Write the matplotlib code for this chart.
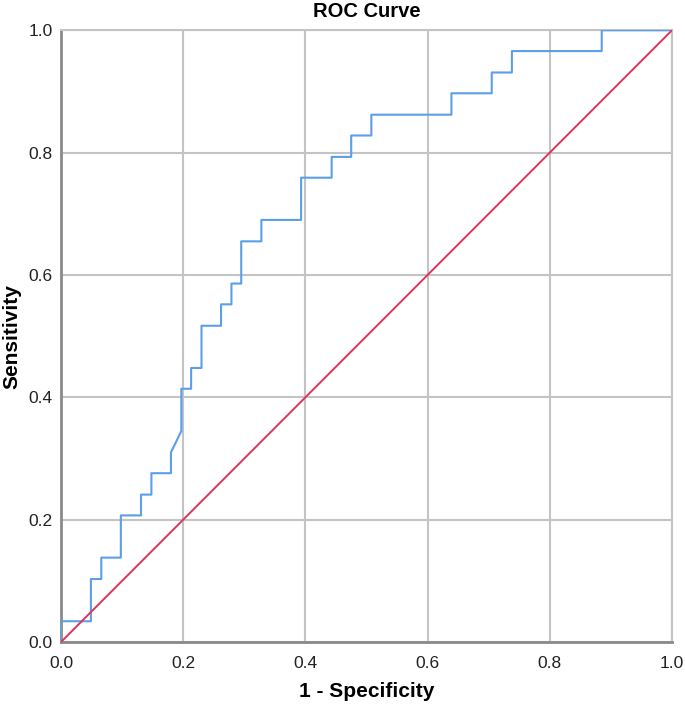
import matplotlib
matplotlib.use("Agg")
import matplotlib.pyplot as plt
import numpy as np

plt.rcParams['font.family'] = ['Liberation Sans', 'DejaVu Sans']

# ROC curve vertices
fpr = [0.000, 0.000, 0.049, 0.049, 0.066, 0.066, 0.098, 0.098, 0.131, 0.131,
       0.148, 0.148, 0.180, 0.180, 0.197, 0.197, 0.213, 0.213, 0.230, 0.230,
       0.262, 0.262, 0.279, 0.279, 0.295, 0.295, 0.328, 0.328, 0.393, 0.393,
       0.443, 0.443, 0.475, 0.475, 0.508, 0.508, 0.639, 0.639, 0.705, 0.705,
       0.738, 0.738, 0.885, 0.885, 1.000]
tpr = [0.000, 0.034, 0.034, 0.103, 0.103, 0.138, 0.138, 0.207, 0.207, 0.241,
       0.241, 0.276, 0.276, 0.310, 0.345, 0.414, 0.414, 0.448, 0.448, 0.517,
       0.517, 0.552, 0.552, 0.586, 0.586, 0.655, 0.655, 0.690, 0.690, 0.759,
       0.759, 0.793, 0.793, 0.828, 0.828, 0.862, 0.862, 0.897, 0.897, 0.931,
       0.931, 0.966, 0.966, 1.000, 1.000]
ref_line = [0.0, 1.0]
ticks = [0.0, 0.2, 0.4, 0.6, 0.8, 1.0]
tick_labels = ['0.0', '0.2', '0.4', '0.6', '0.8', '1.0']

fig = plt.figure(figsize=(6.85, 7.04), dpi=100)
ax = fig.add_axes([0.089, 0.088, 0.892, 0.869])

ax.plot(fpr, tpr, color='#5b9ee9', linewidth=1.5, zorder=3)
ax.plot(ref_line, ref_line, color='#e0335a', linewidth=1.4, zorder=3)

ax.set_xlim(0, 1)
ax.set_ylim(0, 1)
ax.set_xticks(ticks)
ax.set_yticks(ticks)
ax.set_xticklabels(tick_labels)
ax.set_yticklabels(tick_labels)
ax.tick_params(length=0, labelsize=12.5, colors='#222222')
ax.tick_params(axis='x', pad=10)
ax.tick_params(axis='y', pad=6)
ax.grid(True, color='#c4c4c4', linewidth=1.5)
ax.set_axisbelow(True)

for side in ['top', 'right']:
    ax.spines[side].set_color('#c4c4c4')
    ax.spines[side].set_linewidth(1.5)
for side in ['left', 'bottom']:
    ax.spines[side].set_color('#8a8a8a')
    ax.spines[side].set_linewidth(2)

ax.set_title('ROC Curve', fontsize=14.5, fontweight='bold', pad=9.5)
ax.set_xlabel('1 - Specificity', fontsize=15, fontweight='bold', labelpad=8)
ax.set_ylabel('Sensitivity', fontsize=15, fontweight='bold', labelpad=5)

plt.savefig('out.png', dpi=100)
